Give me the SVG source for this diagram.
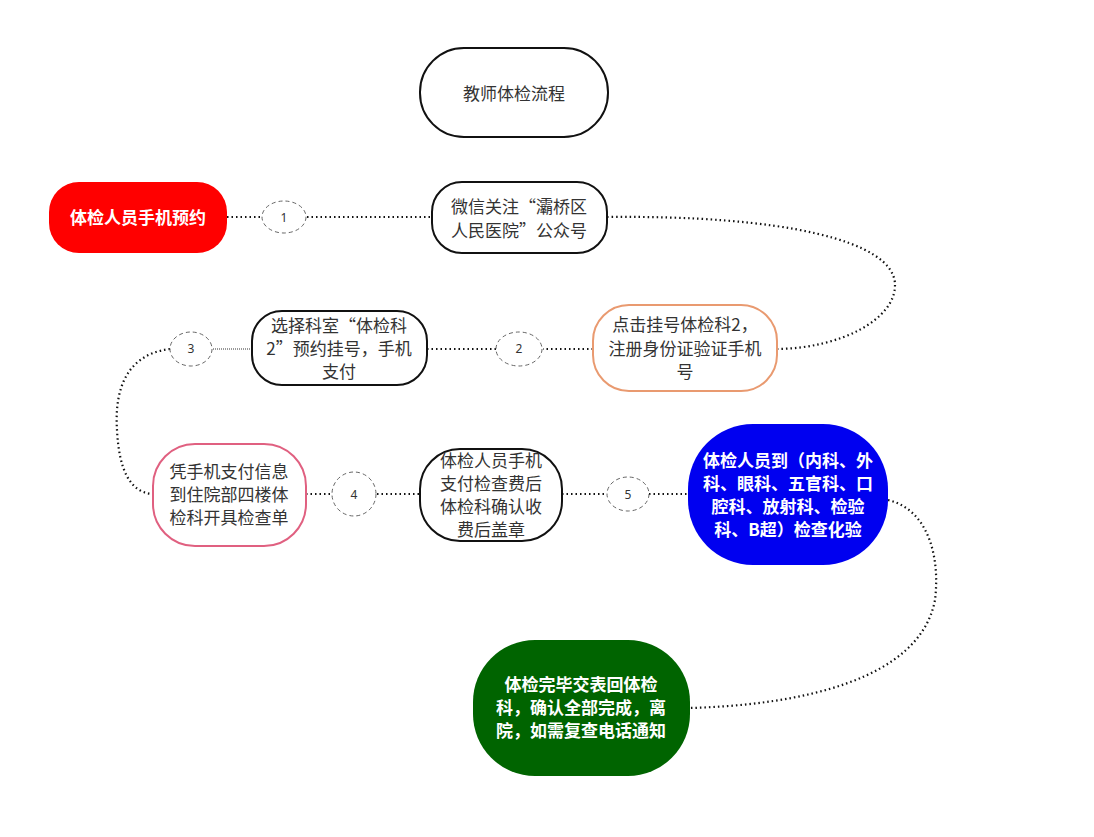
<svg xmlns="http://www.w3.org/2000/svg" width="1094" height="837" viewBox="0 0 1094 837">
<style>
.t{font-family:"Noto Sans CJK SC","Noto Sans",sans-serif;font-size:17px;fill:#333;text-anchor:middle}
.w{font-family:"Noto Sans CJK SC","Noto Sans",sans-serif;font-size:17px;font-weight:bold;fill:#fff;text-anchor:middle}
.n{font-family:"Noto Sans","Liberation Sans",sans-serif;font-size:12px;fill:#333;text-anchor:middle}
.c{fill:#fff;stroke:#666;stroke-width:1;stroke-dasharray:4 3}
.l{fill:none;stroke:#111;stroke-width:2.2;stroke-dasharray:1.5 3}
</style>
<rect width="1094" height="837" fill="#fff"/>
<g id="connectors">
<path class="l" d="M227 217H263M307 217H432"/>
<path class="l" d="M607 217C780 215 895 240 895 285C895 320 840 348 778 349"/>
<path class="l" d="M593 349H543M496 349H427"/>
<path d="M252 349H213" fill="none" stroke="#333" stroke-width="1" stroke-dasharray="1 1"/>
<path class="l" d="M170 349C120 355 115 400 117 430C119 470 130 492 152 494"/>
<path class="l" d="M306 494H332M377 494H420M562 494H607M649 494H688"/>
<path class="l" d="M888 500C930 510 940 560 935 600C920 680 800 705 690 708"/>
</g>
<g id="title"><rect x="420" y="48" width="188" height="89" rx="44" fill="#fff" stroke="#111" stroke-width="2"/><text class="t" x="514" y="100" font-size="24">教师体检流程</text></g>
<g id="n1"><rect x="49" y="182" width="178" height="71" rx="30" fill="#f00"/><text class="w" x="138" y="224">体检人员手机预约</text></g>
<g id="c1"><ellipse class="c" cx="284" cy="217" rx="22" ry="16"/><text class="n" x="284" y="222">1</text></g>
<g id="n2"><rect x="432" y="182" width="175" height="71" rx="30" fill="#fff" stroke="#111" stroke-width="2"/><text class="t" x="519" y="213">微信关注“灞桥区</text><text class="t" x="519" y="237">人民医院”公众号</text></g>
<g id="n3"><rect x="593" y="305" width="184" height="86" rx="36" fill="#fff" stroke="#e99a70" stroke-width="2"/><text class="t" x="685" y="331">点击挂号体检科2，</text><text class="t" x="685" y="355">注册身份证验证手机</text><text class="t" x="685" y="378">号</text></g>
<g id="c2"><ellipse class="c" cx="519" cy="349" rx="23" ry="17"/><text class="n" x="519" y="353">2</text></g>
<g id="n4"><rect x="252" y="311" width="175" height="74" rx="30" fill="#fff" stroke="#111" stroke-width="2"/><text class="t" x="339" y="332">选择科室“体检科</text><text class="t" x="339" y="355">2”预约挂号，手机</text><text class="t" x="339" y="378">支付</text></g>
<g id="c3"><ellipse class="c" cx="191" cy="349" rx="21" ry="17"/><text class="n" x="191" y="353">3</text></g>
<g id="n5"><rect x="153" y="444" width="153" height="102" rx="42" fill="#fff" stroke="#e06080" stroke-width="2"/><text class="t" x="229" y="478">凭手机支付信息</text><text class="t" x="229" y="501">到住院部四楼体</text><text class="t" x="229" y="524">检科开具检查单</text></g>
<g id="c4"><ellipse class="c" cx="354" cy="494" rx="22" ry="22"/><text class="n" x="354" y="499">4</text></g>
<g id="n6"><rect x="420" y="449" width="142" height="92" rx="40" fill="#fff" stroke="#111" stroke-width="2"/><text class="t" x="491" y="467">体检人员手机</text><text class="t" x="491" y="490">支付检查费后</text><text class="t" x="491" y="513">体检科确认收</text><text class="t" x="491" y="536">费后盖章</text></g>
<g id="c5"><ellipse class="c" cx="628" cy="494" rx="21" ry="17"/><text class="n" x="628" y="499">5</text></g>
<g id="n7"><rect x="688" y="424" width="200" height="141" rx="65" fill="#0000f0"/><text class="w" x="788" y="467">体检人员到（内科、外</text><text class="w" x="788" y="490">科、眼科、五官科、口</text><text class="w" x="788" y="513">腔科、放射科、检验</text><text class="w" x="788" y="536">科、B超）检查化验</text></g>
<g id="n8"><rect x="473" y="640" width="217" height="136" rx="62" fill="#006400"/><text class="w" x="581" y="691">体检完毕交表回体检</text><text class="w" x="581" y="714">科，确认全部完成，离</text><text class="w" x="581" y="737">院，如需复查电话通知</text></g>
</svg>
